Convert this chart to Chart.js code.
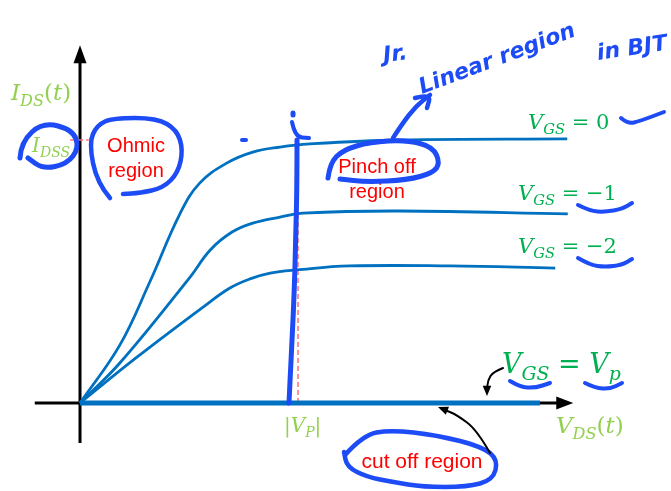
<!DOCTYPE html>
<html>
<head>
<meta charset="utf-8">
<script src="https://cdn.jsdelivr.net/npm/chart.js@4.4.0/dist/chart.umd.min.js"></script>
<style>
  body { margin: 0; background: #fff; }
  #wrap { width: 671px; height: 491px; position: relative; }
</style>
</head>
<body>
<div id="wrap"><canvas id="fet"></canvas></div>
<script>
// JFET drain characteristics: VDS in volts, IDS in mA
const vdsVgs0 = [0, 0.73, 1.28, 1.84, 2.2, 2.7, 3.17, 3.67, 4.22, 5.87, 8.94];
const idsVgs0 = [0, 2.2, 4.6, 7.22, 8.37, 9.13, 9.54, 9.73, 9.85, 10.0, 10.04];

const vdsVgs1 = [0, 0.73, 2.02, 2.39, 2.79, 3.17, 3.67, 4.09, 5.87, 8.95];
const idsVgs1 = [0, 1.52, 4.79, 5.82, 6.5, 6.84, 7.07, 7.22, 7.3, 7.19];

const vdsVgs2 = [0, 1.05, 2.26, 2.75, 3.12, 3.49, 3.98, 4.95, 6.79, 8.72];
const idsVgs2 = [0, 1.75, 3.65, 4.37, 4.72, 4.94, 5.06, 5.21, 5.21, 5.13];

// VGS = Vp: no drain current at all
const vdsCutoff = [0, 8.44];
const idsCutoff = [0, 0];

const vgsLabels = ['0', '\u22121', '\u22122'];
const idss = 10;    // mA
const vpAbs = 4;    // V

const pts = (xs, ys) => xs.map((x, i) => ({ x: x, y: ys[i] }));

const CURVE = '#0070c0';
const PEN = '#1d4bf5';
const RED = '#ff0000';
const GREEN = '#00b050';
const LIGHT = '#92d050';

function drawMath(ctx, x, y, parts, size, color) {
  let cx = x;
  ctx.fillStyle = color;
  ctx.textBaseline = 'alphabetic';
  ctx.textAlign = 'left';
  for (const p of parts) {
    const fs = p.sub ? size * 0.7 : size;
    ctx.font = (p.it ? 'italic ' : '') + fs + 'px "DejaVu Serif"';
    ctx.fillText(p.t, cx, y + (p.sub ? size * 0.25 : 0));
    cx += ctx.measureText(p.t).width;
  }
}

// smooth freehand stroke through the given points
function pen(ctx, p, w, color) {
  ctx.save();
  ctx.strokeStyle = color || PEN;
  ctx.lineWidth = w;
  ctx.lineCap = 'round';
  ctx.lineJoin = 'round';
  ctx.beginPath();
  ctx.moveTo(p[0][0], p[0][1]);
  for (let i = 1; i < p.length - 1; i++) {
    const mx = (p[i][0] + p[i + 1][0]) / 2;
    const my = (p[i][1] + p[i + 1][1]) / 2;
    ctx.quadraticCurveTo(p[i][0], p[i][1], mx, my);
  }
  const last = p[p.length - 1];
  ctx.lineTo(last[0], last[1]);
  ctx.stroke();
  ctx.restore();
}

function head(ctx, tip, from, size, color) {
  const a = Math.atan2(tip[1] - from[1], tip[0] - from[0]);
  ctx.save();
  ctx.fillStyle = color;
  ctx.beginPath();
  ctx.moveTo(tip[0], tip[1]);
  ctx.lineTo(tip[0] - size * Math.cos(a - 0.4), tip[1] - size * Math.sin(a - 0.4));
  ctx.lineTo(tip[0] - size * Math.cos(a + 0.4), tip[1] - size * Math.sin(a + 0.4));
  ctx.closePath();
  ctx.fill();
  ctx.restore();
}

const axesPlugin = {
  id: 'axes',
  beforeDatasetsDraw(chart) {
    const { ctx, scales: { x, y } } = chart;
    const x0 = x.getPixelForValue(0), y0 = y.getPixelForValue(0);
    const xl = x.getPixelForValue(-0.83), xr = x.getPixelForValue(9.05);
    const yb = y.getPixelForValue(-1.52), yt = y.getPixelForValue(13.6);
    ctx.save();
    ctx.strokeStyle = '#000';
    ctx.fillStyle = '#000';
    ctx.lineWidth = 3;
    ctx.beginPath();
    ctx.moveTo(x0, yb); ctx.lineTo(x0, yt + 14);
    ctx.moveTo(xl, y0); ctx.lineTo(xr - 14, y0);
    ctx.stroke();
    ctx.beginPath();
    ctx.moveTo(x0, yt); ctx.lineTo(x0 - 6.5, yt + 18); ctx.lineTo(x0 + 6.5, yt + 18);
    ctx.closePath(); ctx.fill();
    ctx.beginPath();
    ctx.moveTo(xr, y0); ctx.lineTo(xr - 17, y0 - 6.5); ctx.lineTo(xr - 17, y0 + 6.5);
    ctx.closePath(); ctx.fill();
    ctx.restore();
  }
};

const notesPlugin = {
  id: 'notes',
  afterDatasetsDraw(chart) {
    const { ctx } = chart;
    ctx.save();

    // axis and curve labels
    drawMath(ctx, 11, 100, [{ t: 'I', it: 1 }, { t: 'DS', it: 1, sub: 1 }, { t: '(' }, { t: 't', it: 1 }, { t: ')' }], 23, LIGHT);
    drawMath(ctx, 32, 152, [{ t: 'I', it: 1 }, { t: 'DSS', it: 1, sub: 1 }], 20, LIGHT);
    drawMath(ctx, 556, 433, [{ t: 'V', it: 1 }, { t: 'DS', it: 1, sub: 1 }, { t: '(' }, { t: 't', it: 1 }, { t: ')' }], 23, LIGHT);
    drawMath(ctx, 284, 432, [{ t: '|' }, { t: 'V', it: 1 }, { t: 'P', it: 1, sub: 1 }, { t: '|' }], 20, LIGHT);

    const vgsAt = [[528, 129], [518, 200], [518, 253]];
    vgsLabels.forEach((v, i) => {
      drawMath(ctx, vgsAt[i][0], vgsAt[i][1], [{ t: 'V', it: 1 }, { t: 'GS', it: 1, sub: 1 }, { t: ' = ' + v }], 21, GREEN);
    });
    drawMath(ctx, 502, 373, [{ t: 'V', it: 1 }, { t: 'GS', it: 1, sub: 1 }, { t: ' = ' }, { t: 'V', it: 1 }, { t: 'p', it: 1, sub: 1 }], 27, GREEN);

    // region names
    ctx.fillStyle = RED;
    ctx.font = '20px "Liberation Sans"';
    ctx.textAlign = 'center';
    ctx.fillText('Ohmic', 136, 152);
    ctx.fillText('region', 136, 177);
    ctx.fillText('Pinch off', 377, 173);
    ctx.fillText('region', 377, 198);
    ctx.font = '21px "Liberation Sans"';
    ctx.fillText('cut off region', 422, 468);

    // pen marks
    pen(ctx, [[20, 158], [21, 142], [43, 122], [73, 130], [79, 148], [67, 164], [43, 169], [28, 158]], 5);
    pen(ctx, [[110, 198], [97, 183], [89, 143], [97, 125], [113, 118], [157, 118], [177, 130], [183, 150], [178, 173], [163, 188], [140, 193], [123, 194]], 4.5);
    pen(ctx, [[328, 178], [330, 163], [343, 150], [370, 142], [407, 140], [433, 147], [440, 163], [433, 173], [407, 180], [367, 182], [340, 179]], 5);
    pen(ctx, [[393, 138], [402, 124], [416, 106], [430, 95]], 4.5);
    pen(ctx, [[415, 98], [431, 94], [427, 108]], 4.5);
    pen(ctx, [[292, 122], [295, 137], [309, 138]], 4);
    pen(ctx, [[293, 113], [293, 115]], 5);
    pen(ctx, [[297, 140], [297, 180], [296, 230], [294, 300], [291, 360], [289, 403]], 5);
    pen(ctx, [[242, 140], [246, 140]], 4);
    pen(ctx, [[621, 118], [628, 124], [640, 121], [664, 112]], 4);
    pen(ctx, [[578, 205], [590, 211], [605, 212], [622, 209], [632, 203]], 4);
    pen(ctx, [[578, 258], [590, 265], [605, 267], [622, 265], [632, 259]], 4);
    pen(ctx, [[510, 381], [520, 387], [535, 388], [550, 383]], 4);
    pen(ctx, [[585, 383], [595, 388], [610, 389], [622, 383]], 4);
    pen(ctx, [[345, 455], [363, 435], [390, 430], [437, 435], [483, 447], [498, 460], [493, 480], [467, 487], [423, 487], [393, 482], [367, 477], [347, 467], [344, 452]], 4.5);

    // pointer arrows
    pen(ctx, [[503, 368], [493, 372], [488, 380], [487, 390]], 2, '#000');
    head(ctx, [487, 396], [487, 385], 11, '#000');
    pen(ctx, [[490, 453], [477, 430], [457, 415], [445, 410]], 2, '#000');
    head(ctx, [438, 407], [448, 411], 11, '#000');

    // handwritten note
    ctx.fillStyle = PEN;
    ctx.textAlign = 'left';
    ctx.font = 'bold italic 22px "DejaVu Sans"';
    ctx.save(); ctx.translate(384, 62); ctx.rotate(-0.12); ctx.fillText('Jr.', 0, 0); ctx.restore();
    ctx.save(); ctx.translate(422, 94); ctx.rotate(-0.36); ctx.fillText('Linear region', 0, 0); ctx.restore();
    ctx.save(); ctx.translate(598, 60); ctx.rotate(-0.15); ctx.fillText('in BJT', 0, 0); ctx.restore();

    ctx.restore();
  }
};

const curve = (data) => ({
  data: data,
  borderColor: CURVE,
  borderWidth: 2.8,
  tension: 0.4,
  pointRadius: 0,
  fill: false
});

new Chart(document.getElementById('fet'), {
  type: 'line',
  data: {
    datasets: [
      curve(pts(vdsVgs0, idsVgs0)),
      curve(pts(vdsVgs1, idsVgs1)),
      curve(pts(vdsVgs2, idsVgs2)),
      { ...curve(pts(vdsCutoff, idsCutoff)), borderWidth: 5, tension: 0 },
      // pinch-off voltage and saturation current markers
      { data: [{ x: vpAbs, y: 0 }, { x: vpAbs, y: 7.25 }], borderColor: '#ff7070', borderWidth: 1.5, borderDash: [5, 3], pointRadius: 0 },
      { data: [{ x: -0.18, y: idss }, { x: 0.16, y: idss }], borderColor: '#ff7070', borderWidth: 1.5, borderDash: [5, 3], pointRadius: 0 }
    ]
  },
  options: {
    responsive: true,
    maintainAspectRatio: false,
    animation: false,
    layout: { padding: 0 },
    plugins: { legend: { display: false }, tooltip: { enabled: false } },
    scales: {
      x: { type: 'linear', display: false, min: -1.468, max: 10.844 },
      y: { type: 'linear', display: false, min: -3.346, max: 15.323 }
    }
  },
  plugins: [axesPlugin, notesPlugin]
});
</script>
</body>
</html>
